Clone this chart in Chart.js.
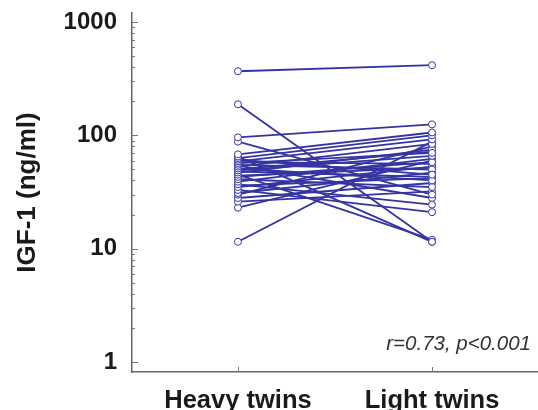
<!DOCTYPE html>
<html>
<head>
<meta charset="utf-8">
<script src="https://cdn.jsdelivr.net/npm/chart.js@4"></script>
<style>
  html, body { margin: 0; padding: 0; background: #fff; }
  #wrap { width: 538px; height: 410px; }
</style>
</head>
<body>
<div id="wrap"><canvas id="igfChart" width="538" height="410"></canvas></div>
<script>
// categories and pair values (IGF-1, ng/ml)
const groups = ['Heavy twins', 'Light twins'];
const heavy = [368, 188, 96, 88, 68, 65, 63, 61, 59, 57, 55, 53, 51, 49, 47, 45, 43, 41, 39, 37, 35, 33, 31, 30, 28, 26, 23, 11.5, 54, 48, 58, 50, 44, 36];
const light = [416, 11.5, 125, 30, 106, 11.5, 100, 45, 92, 70, 50, 84, 40, 66, 75, 12, 58, 35, 62, 24.5, 53, 21, 47, 80, 38, 32, 60, 88, 28, 43, 56, 72, 52, 42];
const yTicks = [1, 10, 100, 1000];
const note = 'r=0.73, p<0.001';

const lineColor = '#3434a2';
const font = 'Liberation Sans, Arial, sans-serif';

// one small line per twin pair
const datasets = heavy.map((h, i) => ({
    data: [{ x: 0, y: h }, { x: 1, y: light[i] }],
    borderColor: lineColor,
    borderWidth: 1.8,
    pointRadius: 3.5,
    pointBorderWidth: 1,
    pointBorderColor: lineColor,
    pointBackgroundColor: '#fff',
    tension: 0
}));

// inward tick marks and the stats note
const axisDecor = {
    id: 'axisDecor',
    afterDraw(chart) {
        const ctx = chart.ctx;
        const y = chart.scales.y;
        const x = chart.scales.x;
        const area = chart.chartArea;
        ctx.save();
        ctx.strokeStyle = '#777';
        ctx.lineWidth = 1;
        for (let d = 0; d < 3; d++) {
            for (let m = 1; m <= 9; m++) {
                const v = m * Math.pow(10, d);
                const py = Math.round(y.getPixelForValue(v)) + 0.5;
                ctx.beginPath();
                ctx.moveTo(area.left, py);
                ctx.lineTo(area.left + (m === 1 ? 6 : 3), py);
                ctx.stroke();
            }
        }
        const pTop = Math.round(y.getPixelForValue(1000)) + 0.5;
        ctx.beginPath();
        ctx.moveTo(area.left, pTop);
        ctx.lineTo(area.left + 6, pTop);
        ctx.stroke();
        groups.forEach((g, i) => {
            const px = Math.round(x.getPixelForValue(i)) + 0.5;
            ctx.beginPath();
            ctx.moveTo(px, area.bottom);
            ctx.lineTo(px, area.bottom - 5);
            ctx.stroke();
        });
        ctx.fillStyle = '#333';
        ctx.font = 'italic 20.5px ' + font;
        ctx.textAlign = 'right';
        ctx.textBaseline = 'middle';
        ctx.fillText(note, 531, 344);
        ctx.restore();
    }
};

new Chart(document.getElementById('igfChart'), {
    type: 'line',
    data: { datasets: datasets },
    options: {
        responsive: false,
        animation: false,
        events: [],
        layout: { autoPadding: false, padding: { top: 13, right: 0, left: 0, bottom: 0 } },
        plugins: {
            legend: { display: false },
            tooltip: { enabled: false }
        },
        scales: {
            x: {
                type: 'linear',
                min: -0.546,
                max: 1.546,
                afterBuildTicks: scale => { scale.ticks = groups.map((g, i) => ({ value: i })); },
                afterFit: scale => {
                    scale.height = 38;
                    scale.paddingLeft = 0;
                    scale.paddingRight = 0;
                },
                grid: { display: false },
                border: { display: true, color: '#666', width: 1.5 },
                ticks: {
                    autoSkip: false,
                    maxRotation: 0,
                    padding: 6,
                    color: '#1a1a1a',
                    font: { family: font, size: 25.5, weight: 'bold' },
                    callback: v => groups[v]
                }
            },
            y: {
                type: 'logarithmic',
                min: 0.816,
                max: 1202,
                afterBuildTicks: scale => { scale.ticks = yTicks.map(v => ({ value: v })); },
                afterFit: scale => {
                    scale.width = 132;
                    scale.paddingTop = 0;
                    scale.paddingBottom = 0;
                },
                grid: { display: false },
                border: { display: true, color: '#666', width: 1.5 },
                ticks: {
                    autoSkip: false,
                    padding: 7,
                    color: '#1a1a1a',
                    font: { family: font, size: 24, weight: 'bold' },
                    callback: v => String(v)
                },
                title: {
                    display: true,
                    text: 'IGF-1 (ng/ml)',
                    color: '#1a1a1a',
                    font: { family: font, size: 26, weight: 'bold' },
                    padding: { top: 12, bottom: 0 }
                }
            }
        }
    },
    plugins: [axisDecor]
});
</script>
</body>
</html>
